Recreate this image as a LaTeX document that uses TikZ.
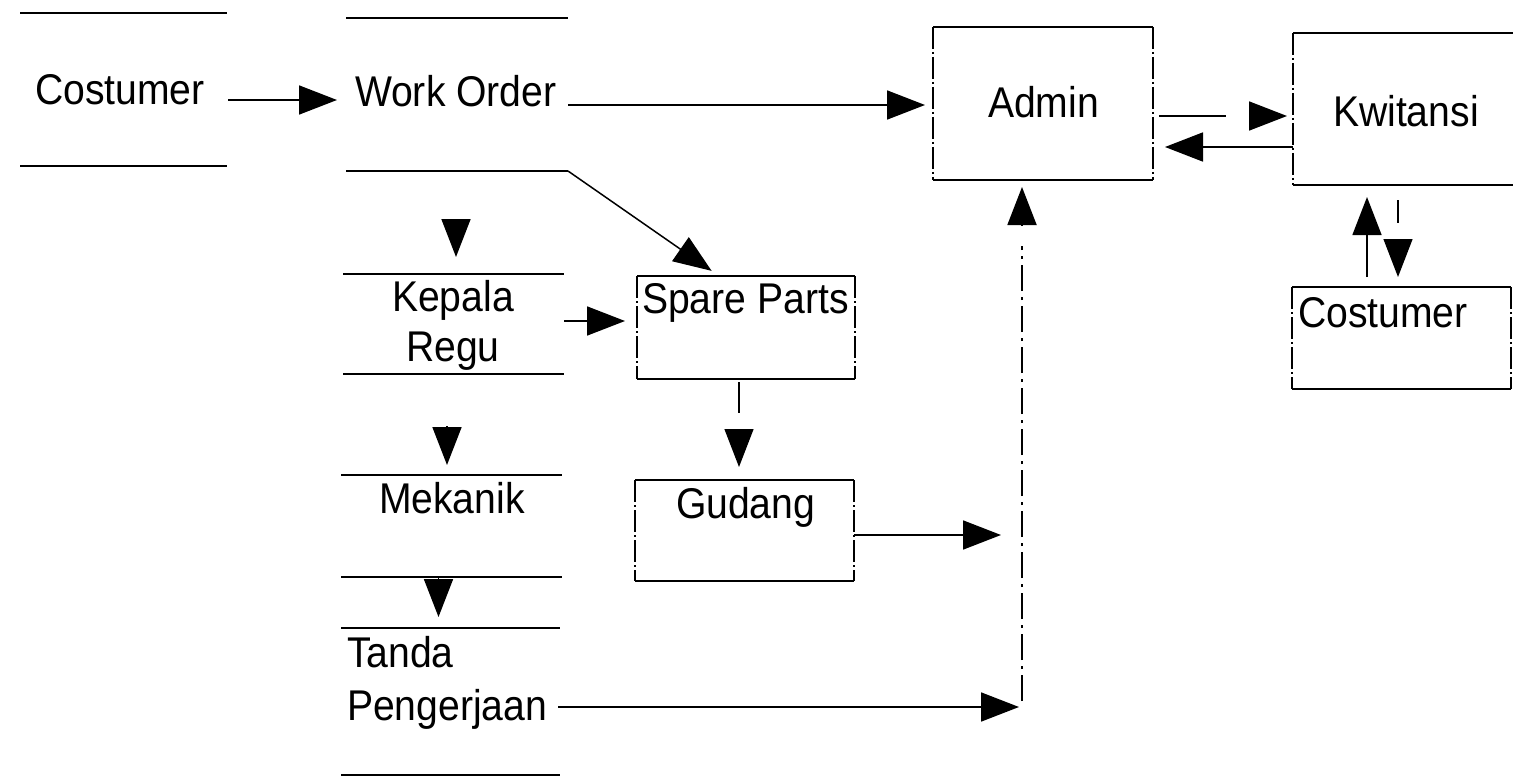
\documentclass[tikz,border=0pt]{standalone}
\usepackage{fontspec}
\setmainfont{Liberation Sans}[FakeStretch=0.91]
\usetikzlibrary{arrows.meta,calc}
\begin{document}
\begin{tikzpicture}[x=1pt,y=-1pt,
  lbl/.style={inner sep=0pt, outer sep=0pt, font=\fontsize{43}{50}\selectfont},
  area/.style={inner sep=0pt, outer sep=0pt, draw=none},
  hl/.style={line width=2pt},
  vl/.style={line width=1.3pt, dash pattern=on 22pt off 3pt on 2pt off 3pt},
  arr/.style={line width=1.8pt, -{Triangle[length=38pt,width=29pt]}},
  dline/.style={line width=1.3pt, dash pattern=on 26pt off 6pt on 3pt off 6pt}
]
\fill[white] (0,0) rectangle (1513,781);
\useasboundingbox (0,0) rectangle (1513,781);
\clip (0,0) rectangle (1513,781);

% store areas (top and bottom lines)
\node[area, minimum width=207pt, minimum height=153pt] (costL) at (123.5,89.5) {};
\node[area, minimum width=222pt, minimum height=153pt] (wo) at (457,94.5) {};
\node[area, minimum width=221pt, minimum height=100pt] (kep) at (453.5,324) {};
\node[area, minimum width=221pt, minimum height=102pt] (mek) at (451.5,526) {};
\node[area, minimum width=219pt, minimum height=147pt] (tan) at (450.5,701.5) {};
% boxes
\node[area, minimum width=220pt, minimum height=153pt] (admin) at (1043,103.5) {};
\node[area, minimum width=240pt, minimum height=152pt] (kwit) at (1413,109) {};
\node[area, minimum width=218pt, minimum height=103pt] (spare) at (746,327.5) {};
\node[area, minimum width=219pt, minimum height=101pt] (gudang) at (744.5,530.5) {};
\node[area, minimum width=219pt, minimum height=102pt] (costR) at (1401.5,338) {};

\foreach \n in {costL,wo,kep,mek,tan,admin,kwit,spare,gudang,costR}
  \draw[hl] (\n.north west) -- (\n.north east) (\n.south west) -- (\n.south east);
\foreach \n in {admin,kwit,spare,gudang,costR}
  \draw[vl] (\n.north west) -- (\n.south west) (\n.north east) -- (\n.south east);

% texts
\node[lbl, anchor=base west] (costLt) at (35,105) {Costumer};
\node[lbl, anchor=base west] (wot) at (355,107) {Work Order};
\node[lbl, anchor=base west] (admint) at (988,118) {Admin};
\node[lbl, anchor=base west] (kwitt) at (1333,127) {Kwitansi};
\node[lbl, anchor=base west] (costRt) at (1298,327) {Costumer};
\node[lbl, anchor=base west] (sparet) at (642,313) {Spare Parts};
\node[lbl, anchor=base west] (gudangt) at (676,518) {Gudang};
\node[lbl, anchor=base west] (mekt) at (379,513) {Mekanik};
\node[lbl, anchor=north, align=center] (kept) at (453,280) {Kepala\\Regu};
\node[lbl, anchor=north west, align=left, font=\fontsize{43}{53}\selectfont] (tant) at (347,636) {Tanda\\Pengerjaan};

% connectors
\draw[arr, shorten >=9pt] ($(costL.east)+(1,10.5)$) -- ($(wo.west)+(0,5.5)$);
\draw[arr, shorten >=8pt] ($(wo.east)+(0,10.5)$) coordinate (woa) -- (admin.west |- woa);
\draw[arr, line width=1.5pt, shorten >=9pt] (wo.south east) -- ($(spare.north west)+(82,0)$);
\draw[arr, shorten <=48pt, shorten >=17pt] ($(wo.south)+(-1,0)$) -- ($(kep.north)+(2.5,0)$);
\draw[arr, shorten <=52pt, shorten >=10pt] ($(kep.south)+(-6.5,0)$) -- ($(mek.north)+(-4.5,0)$);
\draw[arr, shorten <=1pt, shorten >=11pt] ($(mek.south)+(-13,0)$) -- ($(tan.north)+(-12,0)$);
\draw[arr, shorten >=12pt] ($(kep.east)+(0,-3)$) coordinate (ks) -- (spare.west |- ks);
\draw[arr, line width=1.3pt, dash pattern=on 31pt off 30pt, shorten <=3pt, shorten >=13pt]
  ($(spare.south)+(-7,0)$) -- ($(gudang.north)+(-5.5,0)$);
\coordinate (vb) at (1022,707);
\draw[arr, shorten >=21pt] ($(gudang.east)+(0,4.5)$) coordinate (ga) -- (vb |- ga);
\draw[arr, shorten >=3pt] ($(tan.east)+(-2,5.5)$) -- (vb);
\draw[dline] ($(vb)+(0,-6)$) -- ($(vb |- admin.south)+(0,66)$);
\draw[arr, shorten <=45pt, shorten >=7pt] ($(vb |- admin.south)+(0,90)$) -- (vb |- admin.south);
\draw[arr, dash pattern=on 67pt off 100pt, shorten >=6pt] ($(admin.east)+(6,12.5)$) coordinate (ak) -- (kwit.west |- ak);
\draw[arr, shorten >=12pt] ($(kwit.west)+(0,38)$) coordinate (ka) -- (admin.east |- ka);
\draw[arr, line width=1.5pt, shorten <=10pt, shorten >=12pt] ($(costR.north)+(-34.5,0)$) -- ($(kwit.south)+(-46,0)$);
\draw[arr, line width=1.3pt, dash pattern=on 23pt off 40pt, shorten <=15pt, shorten >=10pt] ($(kwit.south)+(-15,0)$) -- ($(costR.north)+(-3.5,0)$);
\end{tikzpicture}
\end{document}
